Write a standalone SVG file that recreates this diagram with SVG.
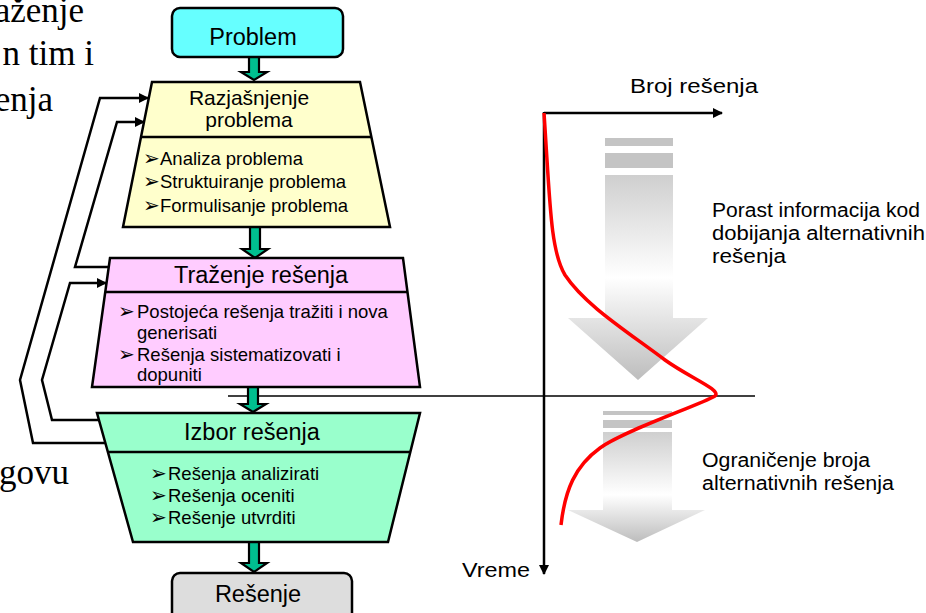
<svg xmlns="http://www.w3.org/2000/svg" width="926" height="613" viewBox="0 0 926 613">
  <style>
    .box { stroke: #000; stroke-width: 2.5; stroke-linejoin: miter; }
    .title { font-family: "Liberation Sans", Arial, sans-serif; font-size: 23.5px; fill: #000; text-anchor: middle; }
    .item { font-family: "Liberation Sans", Arial, sans-serif; font-size: 18.5px; fill: #000; }
    .bullet { font-family: "DejaVu Sans", sans-serif; font-size: 20px; fill: #000; }
    .side { font-family: "Liberation Serif", "Times New Roman", serif; font-size: 35px; fill: #000; text-anchor: end; }
    .note { font-family: "Liberation Sans", Arial, sans-serif; font-size: 19.5px; fill: #000; }
    .flow { fill: #00BF8F; stroke: #000; stroke-width: 2.2; stroke-linejoin: miter; }
    .back { fill: none; stroke: #000; stroke-width: 2.5; stroke-linejoin: miter; }
    .axis { fill: none; stroke: #000; stroke-width: 2.5; }
    .stripe { fill: #C4C4C4; }
  </style>
  <defs>
    <marker id="tip" viewBox="0 0 10 10" refX="9" refY="5" markerWidth="4" markerHeight="4" orient="auto" markerUnits="strokeWidth">
      <path d="M0,0 L10,5 L0,10 Z" fill="#000"/>
    </marker>
    <linearGradient id="fadeUpper" gradientUnits="userSpaceOnUse" x1="0" y1="175" x2="0" y2="380">
      <stop offset="0" stop-color="#CFCFCF"/>
      <stop offset="0.5" stop-color="#FFFFFF"/>
      <stop offset="1" stop-color="#BDBDBD"/>
    </linearGradient>
    <linearGradient id="fadeLower" gradientUnits="userSpaceOnUse" x1="0" y1="432" x2="0" y2="542">
      <stop offset="0" stop-color="#CFCFCF"/>
      <stop offset="0.57" stop-color="#FFFFFF"/>
      <stop offset="1" stop-color="#BDBDBD"/>
    </linearGradient>
  </defs>

  <rect x="0" y="0" width="926" height="613" fill="#FFFFFF"/>

  <!-- text fragments at the left edge -->
  <g id="side-text">
    <text class="side" x="84" y="22">aženje</text>
    <text class="side" x="94" y="65">n tim i</text>
    <text class="side" x="53" y="111">enja</text>
    <text class="side" x="69" y="484">govu</text>
  </g>

  <!-- chart: axes, separating line, shaded arrows, curve -->
  <g id="chart">
    <line x1="228" y1="396" x2="755" y2="396" stroke="#000" stroke-width="1.5"/>
    <g id="upper-fade">
      <rect class="stripe" x="605" y="138" width="68" height="8"/>
      <rect class="stripe" x="605" y="153" width="68" height="15"/>
      <polygon points="605,175 673,175 673,318 708,318 638,380 568,318 605,318" fill="url(#fadeUpper)"/>
    </g>
    <g id="lower-fade">
      <rect class="stripe" x="603" y="411" width="69" height="4"/>
      <rect class="stripe" x="603" y="420" width="69" height="8"/>
      <polygon points="603,432 672,432 672,510 705,510 637,542 568,510 603,510" fill="url(#fadeLower)"/>
    </g>
    <line class="axis" x1="544" y1="113" x2="722" y2="113" marker-end="url(#tip)"/>
    <line class="axis" x1="544" y1="112" x2="544" y2="574" marker-end="url(#tip)"/>
    <path d="M544,113 C550,200 550,250 565,275 C585,305 625,330 665,360 C690,378 722,390 715,396 C700,405 625,430 600,448 C575,466 565,490 561,525" fill="none" stroke="#FF0000" stroke-width="3.5"/>
    <text class="note" x="630" y="93" textLength="128" lengthAdjust="spacingAndGlyphs">Broj rešenja</text>
    <text class="note" x="462" y="577" textLength="68" lengthAdjust="spacingAndGlyphs">Vreme</text>
    <text class="note" x="712" y="217" textLength="208" lengthAdjust="spacingAndGlyphs">Porast informacija kod</text>
    <text class="note" x="712" y="240" textLength="213" lengthAdjust="spacingAndGlyphs">dobijanja alternativnih</text>
    <text class="note" x="712" y="263" textLength="74" lengthAdjust="spacingAndGlyphs">rešenja</text>
    <text class="note" x="702" y="467" textLength="168" lengthAdjust="spacingAndGlyphs">Ograničenje broja</text>
    <text class="note" x="702" y="490" textLength="192" lengthAdjust="spacingAndGlyphs">alternativnih rešenja</text>
  </g>

  <!-- connectors: downward flow arrows and feedback loops -->
  <g id="connectors">
    <path class="flow" d="M249,57 L259,57 L259,72 L267,72 L254,80 L241,72 L249,72 Z"/>
    <path class="flow" d="M250,227 L260,227 L260,249 L268,249 L255,258 L242,249 L250,249 Z"/>
    <path class="flow" d="M248,387 L258,387 L258,404 L266,404 L253,412 L240,404 L248,404 Z"/>
    <path class="flow" d="M249,542 L259,542 L259,563 L267,563 L254,572 L241,563 L249,563 Z"/>
    <polyline class="back" points="105,443 33,443 20,380 100,98 148,98" marker-end="url(#tip)"/>
    <polyline class="back" points="109,267 75,267 117,122 144,122" marker-end="url(#tip)"/>
    <polyline class="back" points="100,420 52,420 42,380 70,283 106,283" marker-end="url(#tip)"/>
  </g>

  <g id="problem">
    <rect class="box" x="172" y="8" width="171" height="49" rx="8" fill="#66FFFF"/>
    <text class="title" x="253" y="45">Problem</text>
  </g>

  <g id="razjasnjenje">
    <polygon class="box" points="152,82 360,82 390,227 123,227" fill="#FFFFCC"/>
    <line class="box" x1="141" y1="137" x2="371" y2="137"/>
    <text class="title" x="249" y="105" style="font-size:21px">Razjašnjenje</text>
    <text class="title" x="249" y="127" style="font-size:21px">problema</text>
    <text class="bullet" x="143" y="165">➢</text>
    <text class="item" x="160" y="165">Analiza problema</text>
    <text class="bullet" x="143" y="188">➢</text>
    <text class="item" x="160" y="188">Struktuiranje problema</text>
    <text class="bullet" x="143" y="212">➢</text>
    <text class="item" x="160" y="212">Formulisanje problema</text>
  </g>

  <g id="trazenje">
    <polygon class="box" points="110,258 403,258 420,387 92,387" fill="#FFCCFF"/>
    <line class="box" x1="106" y1="292" x2="408" y2="292"/>
    <text class="title" x="261" y="283">Traženje rešenja</text>
    <text class="bullet" x="118" y="318">➢</text>
    <text class="item" x="137" y="318">Postojeća rešenja tražiti i nova</text>
    <text class="item" x="137" y="339">generisati</text>
    <text class="bullet" x="118" y="361">➢</text>
    <text class="item" x="137" y="361">Rešenja sistematizovati i</text>
    <text class="item" x="137" y="381">dopuniti</text>
  </g>

  <g id="izbor">
    <polygon class="box" points="97,413 420,413 388,542 133,542" fill="#99FFCC"/>
    <line class="box" x1="108" y1="452" x2="410" y2="452"/>
    <text class="title" x="252" y="440">Izbor rešenja</text>
    <text class="bullet" x="150" y="480">➢</text>
    <text class="item" x="168" y="480">Rešenja analizirati</text>
    <text class="bullet" x="150" y="502">➢</text>
    <text class="item" x="168" y="502">Rešenja oceniti</text>
    <text class="bullet" x="150" y="524">➢</text>
    <text class="item" x="168" y="524">Rešenje utvrditi</text>
  </g>

  <g id="resenje">
    <rect class="box" x="172" y="573" width="180" height="55" rx="8" fill="#DDDDDD"/>
    <text class="title" x="258" y="602">Rešenje</text>
  </g>
</svg>
